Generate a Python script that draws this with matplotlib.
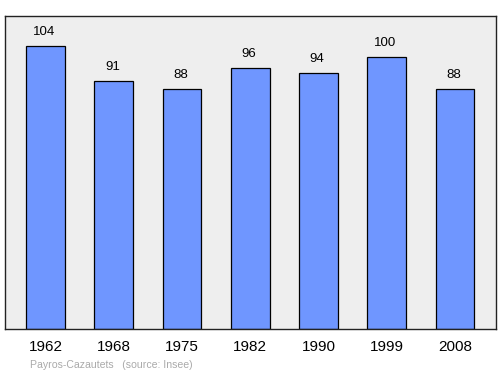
import matplotlib
matplotlib.use("Agg")
import matplotlib.pyplot as plt

years = ["1962", "1968", "1975", "1982", "1990", "1999", "2008"]
population = [104, 91, 88, 96, 94, 100, 88]

plt.rcParams['font.family'] = ['Liberation Sans', 'DejaVu Sans']
fig = plt.figure(figsize=(5, 3.74), dpi=100)
W, H = 500, 374
ax = fig.add_axes([5/W, 1-329/H, 491/W, 313/H])
ax.set_facecolor('#eeeeee')
x = list(range(len(years)))
ax.bar(x, population, width=0.57, color='#6f96ff', edgecolor='black', linewidth=0.9, zorder=2)
for xi, v in zip(x, population):
    ax.text(xi - 0.02, v + 3.0, str(v), ha='center', va='bottom', fontsize=9.5)
ax.set_xlim(-0.593, 6.6)
ax.set_ylim(0, 115)
ax.set_yticks([])
ax.set_xticks(x)
ax.set_xticklabels(years, fontsize=11)
ax.tick_params(axis='x', length=0, pad=8)
for s in ax.spines.values():
    s.set_linewidth(1.0)
    s.set_color('#222222')
fig.text(30/W, 1-365/H, "Payros-Cazautets   (source: Insee)", fontsize=7.6, color='#aaaaaa', va='center', ha='left')
fig.savefig('out.png', dpi=100)
